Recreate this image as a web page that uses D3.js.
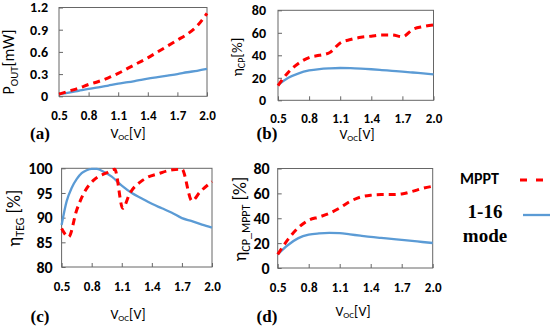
<!DOCTYPE html>
<html>
<head>
<meta charset="utf-8">
<script src="https://cdn.jsdelivr.net/npm/d3@7"></script>
<style>
  body { margin: 0; background: #fff; }
  .tick text { font-family: Carlito, Lato, "Liberation Sans", sans-serif; font-weight: bold; fill: #000; }
  .tick line { stroke: #666; }
  .domain { display: none; }
  .ttl { font-family: Carlito, Lato, "Noto Sans", sans-serif; fill: #000; }
  .plab { font-family: "Liberation Serif", serif; font-weight: bold; fill: #000; }
</style>
</head>
<body>
<div id="chart"></div>
<script>
// shared x grid (Voc, V) for panels a, b, d
var voc = [0.5, 0.6, 0.7, 0.8, 0.9, 1.0, 1.1, 1.2, 1.3, 1.4, 1.5, 1.6, 1.7, 1.8, 1.9, 2.0];
var xTicks = [0.5, 0.8, 1.1, 1.4, 1.7, 2.0];

// (a) Pout [mW]
var poutMppt = [0.03, 0.07, 0.11, 0.16, 0.20, 0.25, 0.31, 0.38, 0.45, 0.52, 0.60, 0.68, 0.76, 0.84, 0.95, 1.12];
var poutMode = [0.03, 0.05, 0.075, 0.10, 0.12, 0.145, 0.17, 0.19, 0.215, 0.24, 0.26, 0.28, 0.30, 0.325, 0.345, 0.37];

// (b) eta CP [%]
var etaCpMppt = [13, 25, 33, 38, 40, 42.5, 51, 54, 56, 57, 58, 58, 56.5, 63, 65.5, 67];
var etaCpMode = [13.5, 20, 24, 26.5, 27.8, 28.4, 28.7, 28.6, 28.2, 27.6, 26.9, 26.2, 25.5, 24.7, 23.9, 23.1];

// (c) eta TEG [%]
var vocTegMppt = [0.5, 0.57, 0.65, 0.72, 0.82, 0.95, 1.03, 1.11, 1.18, 1.31, 1.48, 1.61, 1.7, 1.8, 1.88, 2.0];
var etaTegMppt = [87.8, 86.1, 91.5, 94.9, 97.6, 99.1, 99.8, 91.9, 94.9, 97.6, 99.0, 99.7, 99.8, 93.4, 95.2, 97.3];
var vocTegMode = [0.5, 0.55, 0.6, 0.65, 0.7, 0.75, 0.8, 0.85, 0.9, 1.0, 1.1, 1.2, 1.3, 1.4, 1.5, 1.6, 1.7, 1.8, 1.9, 2.0];
var etaTegMode = [88.5, 93.3, 96.0, 97.8, 99.0, 99.6, 99.9, 99.9, 99.5, 98.3, 96.5, 95.0, 93.9, 92.8, 91.9, 91.0, 89.9, 89.3, 88.6, 88.0];

// (d) eta CP_MPPT [%]
var etaCpmMppt = [11, 23, 32.5, 38.5, 41, 44, 48.3, 53.5, 57, 58.5, 59, 59, 59.5, 61.5, 64, 65.7];
var etaCpmMode = [11, 18.5, 24, 26.8, 27.8, 28.2, 28, 27, 26, 25, 24.2, 23.4, 22.6, 21.8, 20.9, 20.1];

var seriesNames = ["MPPT", "1-16", "mode"];

var red = "#ff0000", blue = "#5b9bd5";

var svg = d3.select("#chart").append("svg")
    .attr("width", 550)
    .attr("height", 328);

function zip(xs, ys) {
    return xs.map(function(v, i) { return [v, ys[i]]; });
}

// text with subscript pieces: parts = [[text, isSub], ...]
function richText(sel, parts, size) {
    parts.forEach(function(p, i) {
        var prevSub = i > 0 && parts[i - 1][1];
        var t = sel.append("tspan").text(p[0]);
        if (p[1]) {
            t.attr("font-size", Math.round(size * 0.66) + "px").attr("dy", size * 0.22);
        } else {
            t.attr("font-size", size + "px");
            if (prevSub) t.attr("dy", -size * 0.22);
        }
    });
}

function panel(p) {
    var g = svg.append("g");
    var x = d3.scaleLinear().domain([0.5, 2.0]).range([p.left, p.right]);
    var y = d3.scaleLinear().domain(p.yDomain).range([p.bottom, p.top]);

    g.append("g")
        .attr("transform", "translate(0," + p.bottom + ")")
        .call(d3.axisBottom(x)
            .tickValues(xTicks)
            .tickFormat(d3.format(".1f"))
            .tickSizeInner(-4)
            .tickSizeOuter(0)
            .tickPadding(p.xPad))
        .selectAll("text").style("font-size", "13px");

    g.append("g")
        .attr("transform", "translate(" + p.left + ",0)")
        .call(d3.axisLeft(y)
            .tickValues(p.yTicks)
            .tickFormat(p.yFormat)
            .tickSizeInner(-4)
            .tickSizeOuter(0)
            .tickPadding(p.yPad))
        .selectAll("text").style("font-size", p.yFont + "px");

    g.append("rect")
        .attr("x", p.left).attr("y", p.top)
        .attr("width", p.right - p.left).attr("height", p.bottom - p.top)
        .attr("fill", "none").attr("stroke", "#666").attr("stroke-width", 1);

    var line = d3.line()
        .x(function(d) { return x(d[0]); })
        .y(function(d) { return y(d[1]); })
        .curve(d3.curveMonotoneX);

    g.append("path")
        .attr("d", line(p.mode))
        .attr("fill", "none").attr("stroke", blue).attr("stroke-width", 2.3);

    g.append("path")
        .attr("d", line(p.mppt))
        .attr("fill", "none").attr("stroke", red).attr("stroke-width", 3)
        .attr("stroke-dasharray", "7,5");

    // x title
    var xt = g.append("text").attr("class", "ttl")
        .attr("x", p.xTitle[0]).attr("y", p.xTitle[1])
        .attr("text-anchor", "middle").attr("dominant-baseline", "middle");
    richText(xt, [["V", false], ["OC", true], ["[V]", false]], 14);

    // y title
    var yt = g.append("text").attr("class", "ttl")
        .attr("transform", "translate(" + p.yTitle[0] + "," + p.yTitle[1] + ") rotate(-90)")
        .attr("text-anchor", "middle");
    richText(yt, p.yTitleParts, p.yTitleSize);

    g.append("text").attr("class", "plab")
        .attr("x", p.tag[0]).attr("y", p.tag[1])
        .attr("text-anchor", "middle").attr("dominant-baseline", "middle")
        .style("font-size", "17px")
        .text(p.tagText);
}

panel({
    left: 59, right: 207, top: 7.5, bottom: 96.3,
    yDomain: [0, 1.2], yTicks: [0, 0.3, 0.6, 0.9, 1.2],
    yFormat: function(d) { return d === 0 ? "0" : d3.format(".1f")(d); },
    xPad: 14, yPad: 11, yFont: 14,
    mppt: zip(voc, poutMppt), mode: zip(voc, poutMode),
    xTitle: [128, 135], yTitle: [14, 62], yTitleSize: 16,
    yTitleParts: [["P", false], ["OUT", true], ["[mW]", false]],
    tag: [40, 135], tagText: "(a)"
});

panel({
    left: 278, right: 433.5, top: 10.3, bottom: 100.3,
    yDomain: [0, 80], yTicks: [0, 20, 40, 60, 80],
    yFormat: d3.format("d"),
    xPad: 13, yPad: 12, yFont: 14,
    mppt: zip(voc, etaCpMppt), mode: zip(voc, etaCpMode),
    xTitle: [357, 136], yTitle: [242, 57], yTitleSize: 15,
    yTitleParts: [["η", false], ["CP", true], ["[%]", false]],
    tag: [267, 135], tagText: "(b)"
});

panel({
    left: 61.6, right: 212, top: 168.3, bottom: 267,
    yDomain: [80, 100], yTicks: [80, 85, 90, 95, 100],
    yFormat: d3.format("d"),
    xPad: 15, yPad: 9, yFont: 16,
    mppt: zip(vocTegMppt, etaTegMppt), mode: zip(vocTegMode, etaTegMode),
    xTitle: [128, 316], yTitle: [20, 218], yTitleSize: 18,
    yTitleParts: [["η", false], ["TEG", true], [" [%]", false]],
    tag: [40, 318], tagText: "(c)"
});

panel({
    left: 277.7, right: 432.7, top: 168.5, bottom: 268,
    yDomain: [0, 80], yTicks: [0, 20, 40, 60, 80],
    yFormat: d3.format("d"),
    xPad: 15, yPad: 8, yFont: 16,
    mppt: zip(voc, etaCpmMppt), mode: zip(voc, etaCpmMode),
    xTitle: [353, 313], yTitle: [246, 219], yTitleSize: 18,
    yTitleParts: [["η", false], ["CP_MPPT", true], [" [%]", false]],
    tag: [267, 318], tagText: "(d)"
});

// legend
var lg = svg.append("g");
lg.append("text")
    .attr("x", 460).attr("y", 180).attr("dominant-baseline", "middle")
    .style("font-family", "Carlito, Lato, 'Liberation Sans', sans-serif")
    .style("font-weight", "bold").style("font-size", "16px")
    .text(seriesNames[0]);
lg.append("line")
    .attr("x1", 520).attr("x2", 552).attr("y1", 180).attr("y2", 180)
    .attr("stroke", red).attr("stroke-width", 3).attr("stroke-dasharray", "7,9");
lg.selectAll("text.m")
    .data(seriesNames.slice(1))
    .enter().append("text").attr("class", "plab m")
    .attr("x", 485).attr("y", function(d, i) { return 214 + i * 24; })
    .attr("text-anchor", "middle").attr("dominant-baseline", "middle")
    .style("font-size", "19px")
    .text(function(d) { return d; });
lg.append("line")
    .attr("x1", 523).attr("x2", 552).attr("y1", 215).attr("y2", 215)
    .attr("stroke", blue).attr("stroke-width", 2.3);
</script>
</body>
</html>
